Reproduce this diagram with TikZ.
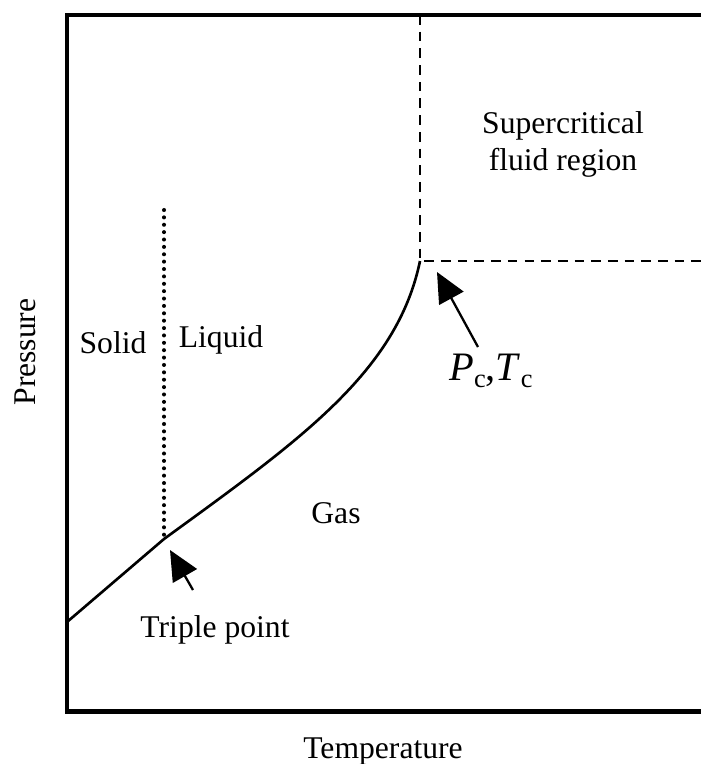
\documentclass[tikz,border=0pt]{standalone}
\usepackage{fontspec}
\setmainfont{Liberation Serif}
\usetikzlibrary{arrows.meta}
\newcommand{\critsub}[1]{\raisebox{-.4ex}{\fontsize{15}{15}\selectfont #1}}

\begin{document}
\begin{tikzpicture}[x=0.02cm,y=-0.02cm,line width=1.1pt,
  label/.style={inner sep=0pt,anchor=base,font=\fontsize{18}{21}\selectfont},
  frame/.style={line width=2.3pt},
  phase/.style={line width=1.5pt},
  melt/.style={line width=2.3pt,line cap=round,dash pattern=on 0pt off 4.2pt},
  crit/.style={line width=1.4pt,dash pattern=on 5.5pt off 4pt},
  pointer/.style={line width=1.3pt,-{Triangle[length=0.6cm,width=0.55cm]}}]
\useasboundingbox (0,0) rectangle (701,764);
% points of the diagram
\coordinate (low) at (67,622);
\coordinate (tp) at (164,539);
\coordinate (cp) at (420,261);
\coordinate (tptop) at (164,210);
\coordinate (cptop) at (420,15);
\coordinate (cpright) at (701,261);
\coordinate (tptail) at (193,590);
\coordinate (tptip) at (170,550);
\coordinate (cptail) at (478,347);
\coordinate (cptip) at (437,272);
% frame
\draw[frame] (701,14.7)--(67,14.7)--(67,711.5)--(701,711.5);
% phase boundaries
\draw[phase] (low)--(tp) .. controls (300,440) and (397,372) .. (cp);
\draw[melt] (tptop)--(tp);
\draw[crit] (cptop)--(cp)--(cpright);
% labels
\node[label] (super) at (563,133) {Supercritical};
\node[label] (fluid) at (563,170) {fluid region};
\node[label] (solid) at (113,353) {Solid};
\node[label] (liquid) at (221,347) {Liquid};
\node[label] (gas) at (336,523) {Gas};
\node[label] (triple) at (215,637) {Triple point};
\node[inner sep=0pt,anchor=base,font=\fontsize{23}{26}\selectfont] (pctc) at (491,380)
  {\textit{P}\critsub{c},\textit{T}\critsub{c}};
\node[label,rotate=90] (pres) at (35,352) {Pressure};
\node[label] (temp) at (383,758) {Temperature};
% pointers
\draw[pointer] (tptail)--(tptip);
\draw[pointer] (cptail)--(cptip);
\end{tikzpicture}
\end{document}
